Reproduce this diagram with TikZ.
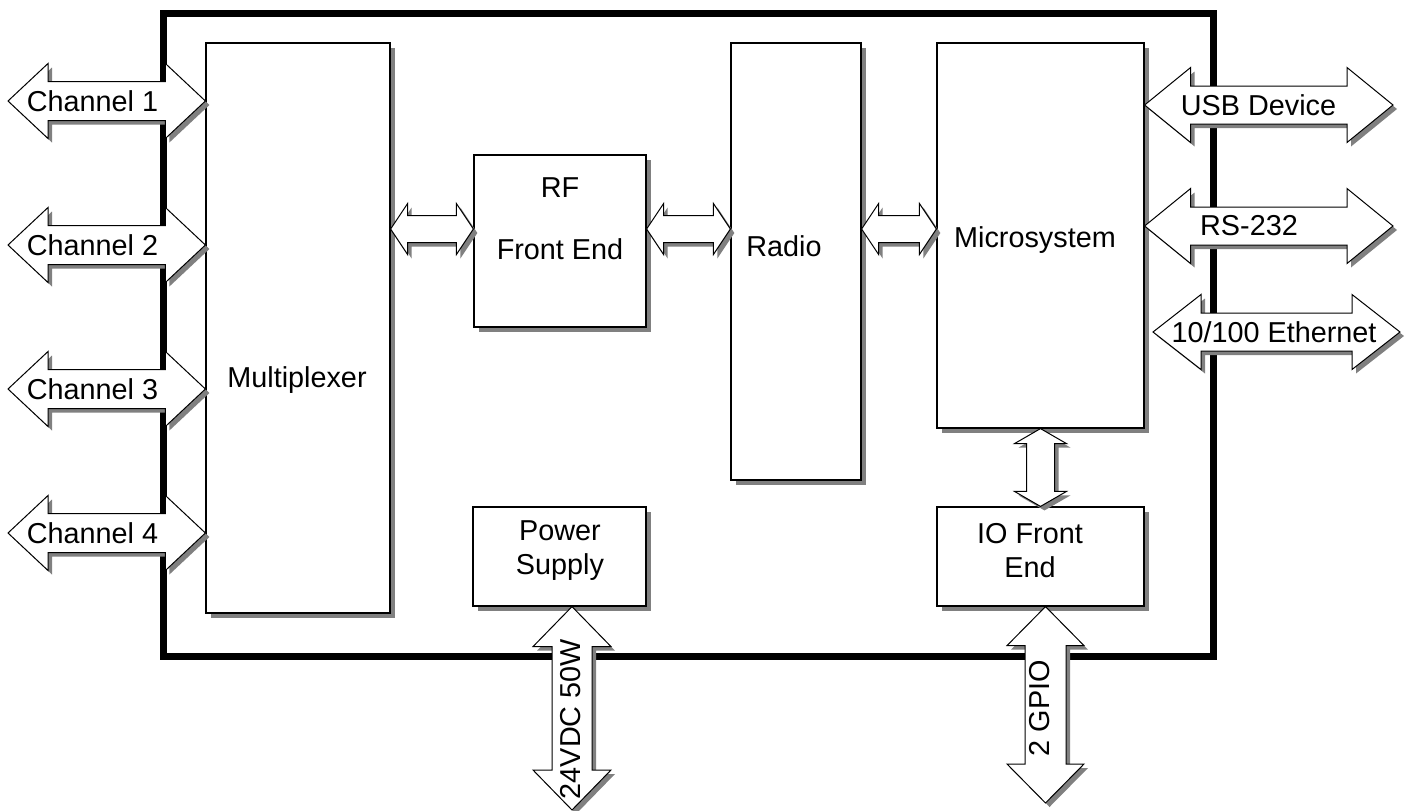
\documentclass[tikz,border=0pt]{standalone}
\usepackage{fontspec}
\setmainfont{Liberation Sans}
\usetikzlibrary{calc,shadows}

\tikzset{
  block/.style={draw=black, line width=0.6pt, fill=white, inner sep=0pt,
    drop shadow={shadow xshift=2.5pt, shadow yshift=-2.5pt, fill=black!50, opacity=1}},
  fatarrow/.style={draw=black, line width=0.5pt, fill=white,
    drop shadow={shadow xshift=2pt, shadow yshift=-2pt, fill=black!50, opacity=1}},
  harrow/.style n args={3}{fatarrow, to path={let \p1=(\tikztostart), \p2=(\tikztotarget) in
    (\x1,\y1) -- (\x1+#1,\y1+#2) -- (\x1+#1,\y1+#3) -- (\x2-#1,\y1+#3) -- (\x2-#1,\y1+#2)
    -- (\x2,\y1) -- (\x2-#1,\y1-#2) -- (\x2-#1,\y1-#3) -- (\x1+#1,\y1-#3) -- (\x1+#1,\y1-#2) -- cycle}},
  varrow/.style n args={3}{fatarrow, to path={let \p1=(\tikztostart), \p2=(\tikztotarget) in
    (\x1,\y1) -- (\x1+#2,\y1-#1) -- (\x1+#3,\y1-#1) -- (\x1+#3,\y2+#1) -- (\x1+#2,\y2+#1)
    -- (\x1,\y2) -- (\x1-#2,\y2+#1) -- (\x1-#3,\y2+#1) -- (\x1-#3,\y1-#1) -- (\x1-#2,\y1-#1) -- cycle}},
  lbl/.style={inner sep=0pt, align=center}
}

\begin{document}
\begin{tikzpicture}[x=0.5pt, y=-0.5pt, font=\fontsize{14.4}{17}\selectfont]
\useasboundingbox (0,0) rectangle (1410,810);

\draw[line width=3.5pt] (163.5,13) rectangle (1213.5,656);

\node[block, minimum width=92pt, minimum height=285pt] (mux) at (298,328) {};
\node[block, minimum width=86pt, minimum height=86pt] (rf) at (560,241) {};
\node[block, minimum width=65pt, minimum height=218.5pt] (radio) at (796,261.5) {};
\node[block, minimum width=103.5pt, minimum height=192.5pt] (micro) at (1040.5,235.5) {};
\node[block, minimum width=86.5pt, minimum height=49.5pt] (power) at (559.5,556.5) {};
\node[block, minimum width=103.5pt, minimum height=49.5pt] (io) at (1040.5,556.5) {};

\node[lbl] (lmux) at (297,380) {Multiplexer};
\node[lbl] (lrf) at (560,219) {RF\\[14pt]Front End};
\node[lbl] (lradio) at (784,246) {Radio};
\node[lbl] (lmicro) at (1035,240) {Microsystem};
\node[lbl] (lpower) at (560,551) {Power\\Supply};
\node[lbl] (lio) at (1030,551) {IO Front\\End};

\coordinate (ch1) at (8,101);
\coordinate (ch2) at (8,245);
\coordinate (ch3) at (8,389);
\coordinate (ch4) at (8,533);
\draw[harrow={20pt}{18.75pt}{9.75pt}] (ch1) to (mux.west |- ch1);
\draw[harrow={20pt}{18.75pt}{9.75pt}] (ch2) to (mux.west |- ch2);
\draw[harrow={20pt}{18.75pt}{9.75pt}] (ch3) to (mux.west |- ch3);
\draw[harrow={20pt}{18.75pt}{9.75pt}] (ch4) to (mux.west |- ch4);
\node[lbl] (lch1) at (92.5,101) {Channel 1};
\node[lbl] (lch2) at (92.5,245) {Channel 2};
\node[lbl] (lch3) at (92.5,389) {Channel 3};
\node[lbl] (lch4) at (92.5,533) {Channel 4};

\coordinate (usb) at (1393,105);
\coordinate (rs) at (1393,226);
\coordinate (eth) at (1400,332);
\draw[harrow={23pt}{18.75pt}{9.5pt}] (micro.east |- usb) to (usb);
\draw[harrow={23pt}{18.75pt}{9.5pt}] (micro.east |- rs) to (rs);
\draw[harrow={24pt}{18.75pt}{9.5pt}] (1153,332) to (eth);
\node[lbl] (lusb) at (1258.5,105) {USB Device};
\node[lbl] (lrs) at (1249,226) {RS-232};
\node[lbl] (leth) at (1274,332) {10/100 Ethernet};

\draw[harrow={8.5pt}{12.75pt}{6.75pt}] (mux.east |- 0,229) to (rf.west |- 0,229);
\draw[harrow={8.5pt}{12.75pt}{6.75pt}] (rf.east |- 0,229) to (radio.west |- 0,229);
\draw[harrow={8.5pt}{12.75pt}{6.75pt}] (radio.east |- 0,229) to (micro.west |- 0,229);
\draw[varrow={7.5pt}{13pt}{7pt}] (micro.south) to (io.north);

\coordinate (dc) at (572,810);
\coordinate (gpio) at (1045.5,803);
\draw[varrow={20pt}{19.5pt}{10pt}] (power.south -| dc) to (dc);
\draw[varrow={19.5pt}{19.25pt}{10.25pt}] (io.south -| gpio) to (gpio);
\node[lbl, rotate=90] (ldc) at (571,719) {24VDC 50W};
\node[lbl, rotate=90] (lgpio) at (1040,708) {2 GPIO};
\end{tikzpicture}
\end{document}
